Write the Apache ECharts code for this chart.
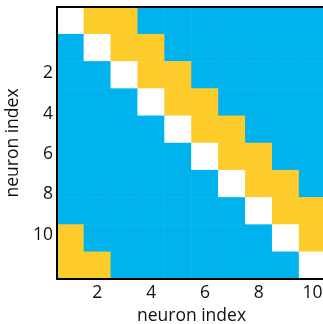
<!DOCTYPE html>
<html>
<head>
<meta charset="utf-8">
<script src="https://cdn.jsdelivr.net/npm/echarts@6/dist/echarts.min.js"></script>
<style>
  html, body { margin: 0; padding: 0; background: #fff; }
  #chart { width: 323px; height: 324px; }
</style>
</head>
<body>
<div id="chart"></div>
<script>
// Neuron indices along both axes
const neurons = ['1', '2', '3', '4', '5', '6', '7', '8', '9', '10'];
// Tick labels shown on the axes
const xTickLabels = [2, 4, 6, 8, 10];
const yTickLabels = [2, 4, 6, 8, 10];
// Connectivity rows (0 = no link, 1 = link, 2 = self)
const row1  = [2, 1, 1, 0, 0, 0, 0, 0, 0, 0];
const row2  = [0, 2, 1, 1, 0, 0, 0, 0, 0, 0];
const row3  = [0, 0, 2, 1, 1, 0, 0, 0, 0, 0];
const row4  = [0, 0, 0, 2, 1, 1, 0, 0, 0, 0];
const row5  = [0, 0, 0, 0, 2, 1, 1, 0, 0, 0];
const row6  = [0, 0, 0, 0, 0, 2, 1, 1, 0, 0];
const row7  = [0, 0, 0, 0, 0, 0, 2, 1, 1, 0];
const row8  = [0, 0, 0, 0, 0, 0, 0, 2, 1, 1];
const row9  = [1, 0, 0, 0, 0, 0, 0, 0, 2, 1];
const row10 = [1, 1, 0, 0, 0, 0, 0, 0, 0, 2];
const rows = [row1, row2, row3, row4, row5, row6, row7, row8, row9, row10];

const cells = [];
rows.forEach((r, i) => r.forEach((v, j) => cells.push([j, i, v])));

const textColor = '#111111';
const font = 'Open Sans';
const fontSize = 17.5;
const showEven = (idx) => idx % 2 === 1;

// frame axis: black line with inward ticks at even indices
function frameAxis(extra) {
  return Object.assign({
    type: 'category', data: neurons, z: 10,
    axisLine: { onZero: false, lineStyle: { color: '#000', width: 2 } },
    axisTick: { inside: true, length: 4, interval: showEven, alignWithLabel: true, lineStyle: { color: '#000', width: 2 } },
    axisLabel: { show: false },
    splitLine: { show: false }
  }, extra);
}

const chart = echarts.init(document.getElementById('chart'), null, { renderer: 'canvas' });
chart.setOption({
  animation: false,
  backgroundColor: '#ffffff',
  grid: { left: 57, top: 7, width: 269, height: 272, containLabel: false, outerBoundsMode: 'none' },
  xAxis: [
    frameAxis({
      position: 'bottom',
      axisLabel: {
        interval: 0, margin: 5, color: textColor, fontFamily: font, fontSize: fontSize,
        formatter: (v) => (xTickLabels.indexOf(Number(v)) >= 0 ? v : '')
      },
      name: 'neuron index', nameLocation: 'middle', nameGap: 16,
      nameTextStyle: { color: textColor, fontFamily: font, fontSize: fontSize }
    }),
    frameAxis({ position: 'top' })
  ],
  yAxis: [
    frameAxis({ position: 'left', inverse: true }),
    frameAxis({ position: 'right', inverse: true }),
    {
      // label-only axis on the left
      type: 'value', inverse: true, position: 'left', z: 10,
      min: -1.28, max: 12.185,
      axisLine: { show: false, onZero: false }, axisTick: { show: false }, splitLine: { show: false },
      axisLabel: {
        customValues: yTickLabels, margin: 4,
        color: textColor, fontFamily: font, fontSize: fontSize
      },
      name: 'neuron index', nameLocation: 'middle', nameGap: 35, nameRotate: 90,
      nameTextStyle: { color: textColor, fontFamily: font, fontSize: fontSize }
    }
  ],
  visualMap: {
    show: false, type: 'piecewise', dimension: 2,
    pieces: [
      { value: 0, color: '#00b2ee' },
      { value: 1, color: '#fdcb2a' },
      { value: 2, color: '#ffffff' }
    ]
  },
  series: [{
    type: 'heatmap', xAxisIndex: 0, yAxisIndex: 0,
    data: cells,
    itemStyle: { borderWidth: 0 },
    emphasis: { disabled: true }
  }]
});
</script>
</body>
</html>
